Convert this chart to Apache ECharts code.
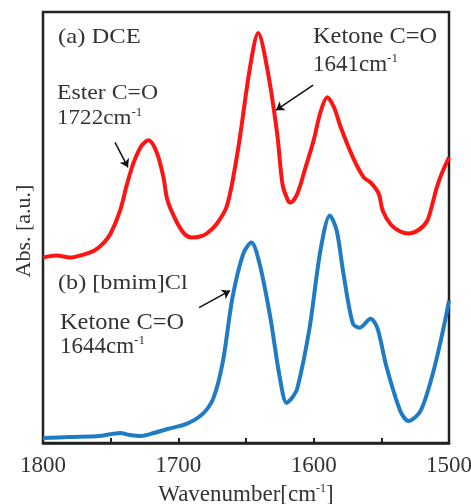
<!DOCTYPE html>
<html>
<head>
<meta charset="utf-8">
<script src="https://cdn.jsdelivr.net/npm/echarts@6/dist/echarts.min.js"></script>
<style>
html, body { margin: 0; padding: 0; background: #fff; }
#chart { width: 471px; height: 504px; }
</style>
</head>
<body>
<div id="chart"></div>
<script>
// (a) DCE spectrum
var dceWave = [1800, 1790, 1780, 1770, 1762, 1755, 1750, 1743, 1738, 1733, 1727, 1722, 1716, 1711, 1708, 1701, 1695, 1690, 1684, 1679, 1672, 1664, 1656, 1647, 1641, 1634.5, 1627, 1623, 1619, 1617, 1612, 1606, 1600, 1595, 1590, 1585, 1580, 1571, 1563, 1558, 1552, 1549, 1543, 1536, 1530, 1522, 1516, 1512, 1509, 1505, 1500];
var dceAbs = [185, 187, 185, 188, 192, 200, 209, 232, 258, 280, 297, 302, 290, 265, 242, 220, 208, 205, 206, 209, 218, 237, 292, 375, 409, 375, 309, 258, 242, 240, 249, 275, 302, 330, 345, 335, 315, 285, 265, 260, 249, 232, 218, 211, 209, 213, 222, 240, 255, 270, 285];

// (b) [bmim]Cl spectrum
var bmimWave = [1800, 1780, 1758, 1743, 1736, 1728, 1718, 1708, 1694, 1682, 1674, 1667, 1660, 1652, 1646, 1640, 1632, 1625, 1620, 1616, 1612, 1603, 1595, 1588, 1583, 1578, 1571, 1566, 1558, 1553, 1546, 1536, 1530, 1521, 1512, 1504, 1500];
var bmimAbs = [5, 6, 7, 10, 8, 7, 10, 14, 19, 29, 45, 82, 145, 189, 200, 179, 125, 65, 40, 45, 55, 115, 192, 227, 212, 169, 119, 115, 124, 115, 75, 32, 22, 32, 69, 115, 142];

// annotation arrows [from, to] in data coords
var esterArrow = [[1746.8, 300], [1737.2, 275]];
var ketoneArrowA = [[1600.4, 357], [1627.8, 332]];
var ketoneArrowB = [[1684.7, 135], [1661.8, 152]];

function pairs(xs, ys) {
	var out = [];
	for (var i = 0; i < xs.length; i++) {
		out.push([xs[i], ys[i]]);
	}
	return out;
}

function arrow(a) {
	return [[{ coord: a[0] }, { coord: a[1] }]];
}

var serif = 'Liberation Serif';
var txtColor = '#333';

// plain text, placed by its vertical centre
function label(x, cy, text, size, sx) {
	return {
		type: 'text', x: x, y: cy, scaleX: sx || 1,
		style: {
			text: text, fontFamily: serif, fontSize: size, fill: txtColor,
			verticalAlign: 'middle', align: 'left'
		}
	};
}

// text with a "-1" superscript
function supLabel(x, cy, text, size, sx) {
	return {
		type: 'text', x: x, y: cy, scaleX: sx || 1,
		style: {
			text: '{a|' + text + '}{s|-1}',
			fill: txtColor,
			verticalAlign: 'middle', align: 'left',
			rich: {
				a: { fontFamily: serif, fontSize: size, lineHeight: size + 2, fill: txtColor },
				s: { fontFamily: serif, fontSize: Math.round(size * 0.55), verticalAlign: 'top', lineHeight: size + 2, fill: txtColor }
			}
		}
	};
}

var myChart = echarts.init(document.getElementById('chart'));

var option = {
	animation: false,
	grid: {
		left: 43, right: 22, top: 12, bottom: 61,
		outerBoundsMode: 'none',
		show: true, borderColor: '#222', borderWidth: 2.5
	},
	xAxis: {
		type: 'value',
		inverse: true,
		min: 1500, max: 1800, interval: 50,
		name: 'Wavenumber[{s|cm}{t|-1}{s|]}',
		nameLocation: 'middle',
		nameGap: 40,
		nameTextStyle: {
			fontFamily: serif, fontSize: 23, color: txtColor,
			rich: {
				s: { fontFamily: serif, fontSize: 23, color: txtColor },
				t: { fontFamily: serif, fontSize: 12, color: txtColor, verticalAlign: 'top' }
			}
		},
		axisLine: { lineStyle: { color: '#222', width: 2.5 } },
		axisTick: { inside: true, length: 5, lineStyle: { color: '#222', width: 2 } },
		axisLabel: {
			fontFamily: serif, fontSize: 23, color: txtColor, margin: 11,
			formatter: function (v) { return v % 100 === 0 ? String(v) : ''; }
		},
		splitLine: { show: false }
	},
	yAxis: {
		type: 'value',
		min: 0, max: 430,
		axisLine: { show: false },
		axisTick: { show: false },
		axisLabel: { show: false },
		splitLine: { show: false }
	},
	series: [{
		name: 'DCE',
		type: 'line',
		data: pairs(dceWave, dceAbs),
		smooth: 0.3,
		showSymbol: false,
		lineStyle: { color: '#ff1414', width: 4 },
		markLine: {
			silent: true,
			symbol: ['none', 'arrow'],
			symbolSize: 8,
			label: { show: false },
			lineStyle: { color: '#111', width: 1.5, type: 'solid' },
			data: arrow(esterArrow).concat(arrow(ketoneArrowA))
		}
	}, {
		name: '[bmim]Cl',
		type: 'line',
		data: pairs(bmimWave, bmimAbs),
		smooth: 0.3,
		showSymbol: false,
		lineStyle: { color: '#1f7bc4', width: 4 },
		markLine: {
			silent: true,
			symbol: ['none', 'arrow'],
			symbolSize: 8,
			label: { show: false },
			lineStyle: { color: '#111', width: 1.5, type: 'solid' },
			data: arrow(ketoneArrowB)
		}
	}],
	graphic: [
		{
			type: 'text', x: 24, y: 231, rotation: Math.PI / 2,
			style: {
				text: 'Abs. [a.u.]', fontFamily: serif, fontSize: 22, fill: txtColor,
				align: 'center', verticalAlign: 'middle'
			}
		},
		label(58, 37, '(a) DCE', 22, 1.12),
		label(313, 37, 'Ketone C=O', 23, 1.06),
		supLabel(313, 65, '1641cm', 23, 1.0),
		label(57, 93, 'Ester C=O', 21, 1.13),
		supLabel(57, 118, '1722cm', 21, 1.1),
		label(58, 283, '(b) [bmim]Cl', 22, 1.1),
		label(60, 323, 'Ketone C=O', 23, 1.06),
		supLabel(60, 347, '1644cm', 23, 1.0)
	]
};

myChart.setOption(option);
</script>
</body>
</html>
